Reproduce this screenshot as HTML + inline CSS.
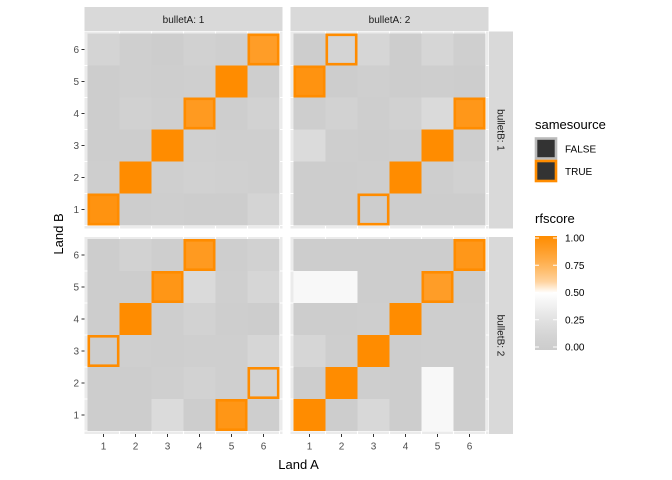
<!DOCTYPE html>
<html><head><meta charset="utf-8"><style>
html,body{margin:0;padding:0;background:#fff;}
svg{display:block;font-family:"Liberation Sans",sans-serif;}
</style></head><body>
<svg id="chart" width="672" height="480"></svg>
<script>
const landLabels=[1,2,3,4,5,6];
const colTitles=["bulletA: 1","bulletA: 2"];
const rowTitles=["bulletB: 1","bulletB: 2"];
const legendTicks=[0,0.25,0.5,0.75,1];
// rows listed from y=6 (top) to y=1 (bottom), columns x=1..6
const scoresA1B1=[[0.12,0.05,0.03,0.08,0.06,0.88],[0.02,0.05,0.04,0.05,1.0,0.04],[0.03,0.08,0.06,0.9,0.04,0.1],[0.03,0.03,1.0,0.07,0.05,0.05],[0.04,1.0,0.05,0.08,0.07,0.05],[0.95,0.03,0.04,0.02,0.03,0.12]];
const scoresA2B1=[[0.03,0.12,0.14,0.03,0.14,0.06],[0.95,0.03,0.05,0.02,0.04,0.03],[0.04,0.1,0.04,0.08,0.18,0.92],[0.2,0.04,0.03,0.04,1.0,0.04],[0.03,0.03,0.04,1.0,0.04,0.08],[0.02,0.02,0.02,0.02,0.02,0.03]];
const scoresA1B2=[[0.03,0.1,0.04,0.9,0.04,0.08],[0.03,0.03,0.93,0.18,0.05,0.14],[0.03,1.0,0.04,0.1,0.04,0.03],[0.03,0.05,0.04,0.06,0.05,0.14],[0.02,0.03,0.06,0.1,0.06,0.1],[0.03,0.03,0.2,0.03,0.93,0.04]];
const scoresA2B2=[[0.03,0.03,0.03,0.03,0.03,0.92],[0.45,0.45,0.03,0.03,0.88,0.03],[0.03,0.02,0.04,1.0,0.04,0.04],[0.14,0.04,1.0,0.03,0.04,0.04],[0.03,1.0,0.04,0.02,0.45,0.04],[1.0,0.03,0.16,0.03,0.45,0.04]];
// same-source pairs [x,y]
const sameA1B1=[[1,1],[2,2],[3,3],[4,4],[5,5],[6,6]];
const sameA2B1=[[2,6],[1,5],[6,4],[5,3],[4,2],[3,1]];
const sameA1B2=[[4,6],[3,5],[2,4],[1,3],[6,2],[5,1]];
const sameA2B2=[[6,6],[5,5],[4,4],[3,3],[2,2],[1,1]];

const NS="http://www.w3.org/2000/svg";
const svg=document.getElementById('chart');
function mk(t,a,p){const e=document.createElementNS(NS,t);for(const k in a)e.setAttribute(k,a[k]);(p||svg).appendChild(e);return e;}
function col(v){let a,b,t;if(v<0.5){a=[204,204,204];b=[255,255,255];t=Math.pow(v/0.5,1.3);}else{a=[255,255,255];b=[255,140,0];t=Math.pow((v-0.5)/0.5,0.6);}
 return 'rgb('+a.map((c,i)=>Math.round(c+(b[i]-c)*t)).join(',')+')';}
const panels=[
 {x0:84.5,y0:31.5,s:scoresA1B1,m:sameA1B1,n:'panel-a1-b1'},
 {x0:290.5,y0:31.5,s:scoresA2B1,m:sameA2B1,n:'panel-a2-b1'},
 {x0:84.5,y0:237,s:scoresA1B2,m:sameA1B2,n:'panel-a1-b2'},
 {x0:290.5,y0:237,s:scoresA2B2,m:sameA2B2,n:'panel-a2-b2'}];
const PW=198,PH=197,U=32;
panels.forEach(p=>{
 const g=mk('g',{});
 
 
 const xs=v=>p.x0+3+U*(v-0.5), ys=v=>p.y0+PH-3-U*(v-0.5);
 mk('rect',{x:p.x0,y:p.y0,width:PW,height:PH,fill:'#EBEBEB'},g);
 landLabels.forEach(l=>{
  mk('line',{x1:xs(l)+U/2,x2:xs(l)+U/2,y1:p.y0,y2:p.y0+PH,stroke:'#fff','stroke-width':1.1},g);
  mk('line',{y1:ys(l)+U/2,y2:ys(l)+U/2,x1:p.x0,x2:p.x0+PW,stroke:'#fff','stroke-width':1.1},g);
 });
 p.s.forEach((row,ri)=>{const y=6-ri;row.forEach((v,ci)=>{const x=ci+1;
  const r=mk('rect',{x:xs(x)-U/2,y:ys(y)-U/2,width:U,height:U,fill:col(v)},g);
  
  
 });});
 p.m.forEach(([x,y])=>{
  const r=mk('rect',{x:xs(x)-U/2+1.3,y:ys(y)-U/2+1.3,width:U-2.6,height:U-2.6,fill:'none',stroke:'#FF8C00','stroke-width':2.6},g);
  
  
 });
 p.xs=xs;p.ys=ys;
});
// strips
colTitles.forEach((t,i)=>{const x=[84.5,290.5][i];
 const r=mk('rect',{x:x,y:7,width:PW,height:24,fill:'#D9D9D9'});
 
 const tx=mk('text',{x:x+PW/2,y:23,'text-anchor':'middle','font-size':10,fill:'#1A1A1A'});tx.textContent=t;
 
});
rowTitles.forEach((t,i)=>{const y=[31.5,237][i];
 const r=mk('rect',{x:489,y:y,width:24,height:PH,fill:'#D9D9D9'});
 
 const tx=mk('text',{x:0,y:0,'text-anchor':'middle','font-size':10,fill:'#1A1A1A',transform:'translate(497.5,'+(y+PH/2)+') rotate(90)'});tx.textContent=t;
 
});
// axes ticks
[panels[2],panels[3]].forEach(p=>landLabels.forEach(l=>{
 mk('line',{x1:p.xs(l),x2:p.xs(l),y1:434,y2:437,stroke:'#333','stroke-width':1});
 const t=mk('text',{x:p.xs(l),y:449.5,'text-anchor':'middle','font-size':10,fill:'#4D4D4D'});t.textContent=l;
 
}));
[panels[0],panels[2]].forEach(p=>landLabels.forEach(l=>{
 mk('line',{x1:81.5,x2:84.5,y1:p.ys(l),y2:p.ys(l),stroke:'#333','stroke-width':1});
 const t=mk('text',{x:79,y:p.ys(l)+3.5,'text-anchor':'end','font-size':10,fill:'#4D4D4D'});t.textContent=l;
 
}));
let t=mk('text',{x:298.5,y:469,'text-anchor':'middle','font-size':13,fill:'#000'});t.textContent='Land A';

t=mk('text',{x:0,y:0,'text-anchor':'middle','font-size':13,fill:'#000',transform:'translate(63,234) rotate(-90)'});t.textContent='Land B';

// legend samesource
t=mk('text',{x:535,y:129,'font-size':13,fill:'#000'});t.textContent='samesource';

[['FALSE','#BBBBBB',138.5],['TRUE','#FF8C00',161]].forEach(([lab,c,y])=>{
 const r=mk('rect',{x:536,y:y,width:20,height:20,fill:'#333333',stroke:c,'stroke-width':2.6});
 
 const tt=mk('text',{x:565,y:y+14,'font-size':10,fill:'#000'});tt.textContent=lab;
 
});
t=mk('text',{x:535,y:223,'font-size':13,fill:'#000'});t.textContent='rfscore';

const defs=mk('defs',{});
const gr=mk('linearGradient',{id:'gb',x1:0,y1:1,x2:0,y2:0},defs);
[0,0.1,0.2,0.3,0.4,0.5,0.6,0.7,0.8,0.9,1].forEach(v=>mk('stop',{offset:v,'stop-color':col(v)},gr));
const bar=mk('rect',{x:535,y:236,width:22,height:114,fill:'url(#gb)'});

legendTicks.forEach(v=>{const y=347-v*109;
 mk('line',{x1:535,x2:539,y1:y,y2:y,stroke:'#fff','stroke-width':1});
 mk('line',{x1:553,x2:557,y1:y,y2:y,stroke:'#fff','stroke-width':1});
 const tt=mk('text',{x:565,y:y+3.5,'font-size':10,fill:'#000'});tt.textContent=v.toFixed(2);
 
});
</script>
</body></html>
